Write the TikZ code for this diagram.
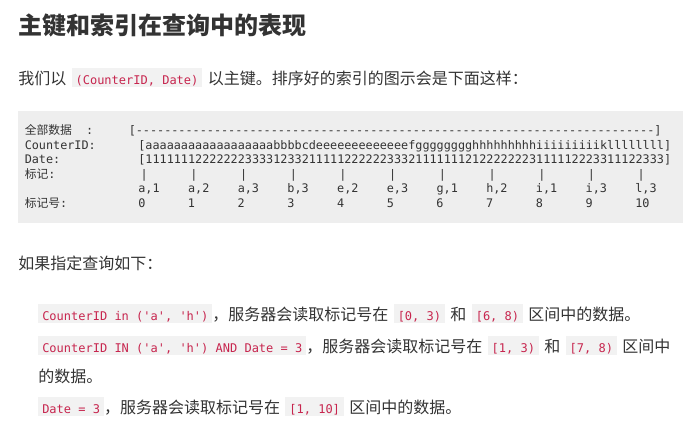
\documentclass[tikz,border=0pt]{standalone}
\usepackage{fontspec}
\setmainfont{Noto Sans CJK SC}
\setmonofont{DejaVu Sans Mono}
\newfontfamily\cjk{Noto Sans CJK SC}
\definecolor{textgray}{HTML}{333333}
\definecolor{codered}{HTML}{C7254E}
\definecolor{codebg}{HTML}{F2F2F2}
\definecolor{blockbg}{HTML}{EEEEEE}
\setlength{\fboxsep}{0pt}
\newcommand{\icode}[1]{\colorbox{codebg}{\vrule width 0pt height 11.7pt depth 2.6pt\hspace{3pt}{\ttfamily\fontsize{9}{10}\selectfont\color{codered}#1}\hspace{3pt}}}
\newcommand{\gap}{\hspace{4pt}}
\begin{document}
\begin{tikzpicture}[x=0.75pt,y=-0.75pt,
  body/.style={anchor=base west,inner sep=0pt,text=textgray,font=\fontsize{12}{14}\selectfont},
  pre/.style={anchor=base west,inner sep=0pt,text=textgray,font=\ttfamily\fontsize{8.85}{10}\selectfont}]
\fill[white] (0,0) rectangle (699,439);
\node[body,font=\bfseries\fontsize{18}{22}\selectfont] (title) at (18,34) {主键和索引在查询中的表现};
\node[body] (intro) at (18,84) {我们以\gap\icode{(CounterID, Date)}\gap 以主键。排序好的索引的图示会是下面这样：};
% code block
\fill[blockbg] (18,111) rectangle (683,223);
\node[pre] (lall) at (24.5,134.5) {{\cjk 全部数据}~~:};
\node[pre] (lcid) at (24.5,149) {CounterID:};
\node[pre] (ldate) at (24.5,163.6) {Date:};
\node[pre] (lmark) at (24.5,178.2) {{\cjk 标记}:};
\node[pre] (lnum) at (24.5,207.4) {{\cjk 标记号}:};
\node[pre] (all) at (128.5,134.5) {[-------------------------------------------------------------------------]};
\node[pre] (cid) at (138.1,149) {[aaaaaaaaaaaaaaaaaabbbbcdeeeeeeeeeeeeefgggggggghhhhhhhhhiiiiiiiiikllllllll]};
\node[pre] (date) at (138.1,163.6) {[1111111222222233331233211111222222333211111112122222223111112223311122333]};
\foreach \i in {0,...,10}
  \node[pre] (mark\i) at (140.4+49.7*\i,178.2) {|};
\foreach \k [count=\i from 0] in {{a,1},{a,2},{a,3},{b,3},{e,2},{e,3},{g,1},{h,2},{i,1},{i,3},{l,3}}
  \node[pre] (key\i) at (138.1+49.7*\i,192.8) {\k};
\foreach \i in {0,...,10}
  \node[pre] (num\i) at (138+49.7*\i,207.4) {\i};
% queries
\node[body] (ask) at (18,269) {如果指定查询如下：};
\node[body] (q1) at (38,320) {\icode{CounterID in ('a', 'h')}，服务器会读取标记号在\gap\icode{[0, 3)}\gap 和\gap\icode{[6, 8)}\gap 区间中的数据。};
\node[body] (q2) at (38,352) {\icode{CounterID IN ('a', 'h') AND Date = 3}，服务器会读取标记号在\gap\icode{[1, 3)}\gap 和\gap\icode{[7, 8)}\gap 区间中};
\node[body] (q2b) at (38,382) {的数据。};
\node[body] (q3) at (38,413) {\icode{Date = 3}，服务器会读取标记号在\gap\icode{[1, 10]}\gap 区间中的数据。};
\end{tikzpicture}
\end{document}
